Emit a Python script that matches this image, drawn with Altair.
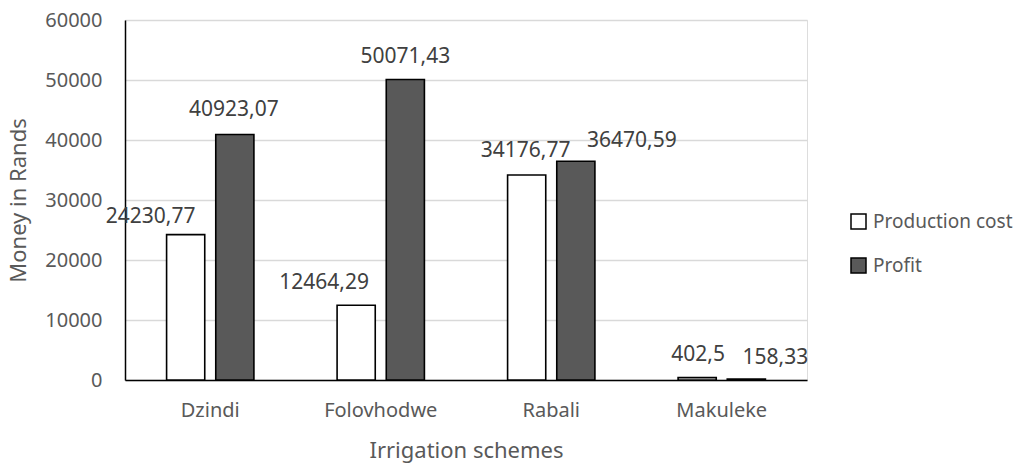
import altair as alt
import pandas as pd

# Irrigation schemes and their money figures (Rands)
schemes = ["Dzindi", "Folovhodwe", "Rabali", "Makuleke"]
production_cost = [24230.77, 12464.29, 34176.77, 402.5]
profit = [40923.07, 50071.43, 36470.59, 158.33]
series = ["Production cost", "Profit"]
y_ticks = [0, 10000, 20000, 30000, 40000, 50000, 60000]

rows = []
for name, values in zip(series, [production_cost, profit]):
    for scheme, v in zip(schemes, values):
        rows.append({
            "scheme": scheme,
            "series": name,
            "value": v,
            "label": repr(v).replace(".", ","),
        })
df = pd.DataFrame(rows)

# Value labels sit above their bars; a few are nudged sideways (dx, dy in px)
# so neighbouring labels stay clear of each other.
label_nudge = {
    ("Dzindi", "Production cost"): (-35, -12),
    ("Dzindi", "Profit"): (-1, -18),
    ("Folovhodwe", "Production cost"): (-32, -16),
    ("Folovhodwe", "Profit"): (0, -17),
    ("Rabali", "Production cost"): (-1, -18),
    ("Rabali", "Profit"): (56, -14),
    ("Makuleke", "Production cost"): (1, -17),
    ("Makuleke", "Profit"): (29, -15),
}

FONT = "Noto Sans"
AXIS_GREY = "#595959"

x_enc = alt.X(
    "scheme:N",
    sort=schemes,
    scale=alt.Scale(paddingInner=0, paddingOuter=0),
    axis=alt.Axis(
        title="Irrigation schemes",
        labelAngle=0,
        labelFontSize=20,
        labelColor=AXIS_GREY,
        labelFont=FONT,
        labelPadding=20,
        ticks=False,
        domainColor="black",
        domainWidth=1.5,
        titleFontSize=22,
        titleFont=FONT,
        titleColor=AXIS_GREY,
        titleFontWeight="normal",
        titlePadding=20,
    ),
)
y_enc = alt.Y(
    "value:Q",
    scale=alt.Scale(domain=[0, 60000], nice=False),
    axis=alt.Axis(
        title="Money in Rands",
        values=y_ticks,
        format="d",
        labelFontSize=20,
        labelColor=AXIS_GREY,
        labelFont=FONT,
        labelPadding=23,
        ticks=False,
        domainColor="black",
        domainWidth=1.5,
        gridColor="#d9d9d9",
        gridWidth=1.5,
        titleFontSize=22,
        titleFont=FONT,
        titleColor=AXIS_GREY,
        titleFontWeight="normal",
        titlePadding=14,
    ),
)
offset_enc = alt.XOffset(
    "series:N",
    sort=series,
    scale=alt.Scale(paddingInner=0.224, paddingOuter=0.846),
)

bars = alt.Chart(df).mark_bar(stroke="black", strokeWidth=1.6).encode(
    x=x_enc,
    y=y_enc,
    xOffset=offset_enc,
    fill=alt.Fill(
        "series:N",
        sort=series,
        scale=alt.Scale(domain=series, range=["#ffffff", "#595959"]),
        legend=alt.Legend(
            title=None,
            orient="none",
            legendX=724,
            legendY=192,
            symbolType="square",
            symbolSize=225,
            symbolStrokeColor="black",
            symbolStrokeWidth=1.5,
            labelFontSize=19,
            labelFont=FONT,
            labelColor=AXIS_GREY,
            labelOffset=5,
            rowPadding=23,
            padding=0,
        ),
    ),
)

label_layers = []
for (scheme, name), (dx, dy) in label_nudge.items():
    label_layers.append(
        alt.Chart(df)
        .transform_filter(
            (alt.datum.scheme == scheme) & (alt.datum.series == name)
        )
        .mark_text(
            fontSize=21,
            font=FONT,
            color="#404040",
            baseline="alphabetic",
            dx=dx,
            dy=dy,
        )
        .encode(
            x=alt.X("scheme:N", sort=schemes),
            y=alt.Y("value:Q"),
            xOffset=alt.XOffset("series:N", sort=series),
            text="label:N",
        )
    )

chart = (
    alt.layer(bars, *label_layers)
    .properties(
        width=682,
        height=360,
        autosize=alt.AutoSizeParams(type="none"),
        padding={"left": 125, "top": 20, "right": 217, "bottom": 83},
    )
    .configure_view(stroke=None)
    .configure(background="white")
)

chart.save("out.html", embed_options={"renderer": "svg", "actions": False})
